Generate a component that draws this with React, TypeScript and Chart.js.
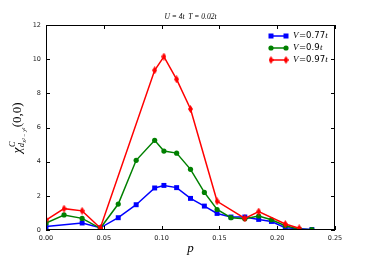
import React, { useEffect, useRef } from "react";
import { Chart, registerables } from "chart.js";

Chart.register(...registerables);

const pBlue = [0, 0.03125, 0.047, 0.0625, 0.078, 0.094, 0.102, 0.113, 0.125, 0.137, 0.148, 0.16, 0.172, 0.184, 0.195, 0.207, 0.23];
const vBlue = [0.2, 0.41, 0.13, 0.72, 1.48, 2.46, 2.61, 2.48, 1.85, 1.4, 0.97, 0.76, 0.76, 0.62, 0.5, 0.13, 0.03];

const pGreen = [0, 0.0156, 0.03125, 0.047, 0.0625, 0.078, 0.094, 0.102, 0.113, 0.125, 0.137, 0.148, 0.16, 0.172, 0.184, 0.195, 0.207, 0.219, 0.23];
const vGreen = [0.4, 0.88, 0.68, 0.1, 1.52, 4.08, 5.25, 4.62, 4.5, 3.55, 2.2, 1.2, 0.72, 0.66, 0.82, 0.6, 0.25, 0.05, 0.02];

const pRed = [0, 0.0156, 0.03125, 0.047, 0.094, 0.102, 0.113, 0.125, 0.148, 0.172, 0.184, 0.207, 0.219];
const vRed = [0.58, 1.25, 1.12, 0.12, 9.35, 10.15, 8.82, 7.08, 1.68, 0.68, 1.08, 0.35, 0.1];

const seriesLabels = ["0.77", "0.9", "0.97"];
const xTicks = [0, 0.05, 0.1, 0.15, 0.2, 0.25];
const yTicks = [0, 2, 4, 6, 8, 10, 12];

const BLUE = "#0000ff";
const GREEN = "#008000";
const RED = "#ff0000";

function makeDiamond(): HTMLCanvasElement {
  const c = document.createElement("canvas");
  c.width = 5;
  c.height = 8;
  const g = c.getContext("2d")!;
  g.fillStyle = RED;
  g.beginPath();
  g.moveTo(2.5, 0);
  g.lineTo(5, 4);
  g.lineTo(2.5, 8);
  g.lineTo(0, 4);
  g.closePath();
  g.fill();
  return c;
}

function drawMarker(ctx: CanvasRenderingContext2D, kind: number, x: number, y: number, diamond: HTMLCanvasElement) {
  ctx.save();
  if (kind === 0) {
    ctx.fillStyle = BLUE;
    ctx.fillRect(x - 2.5, y - 2.5, 5, 5);
  } else if (kind === 1) {
    ctx.fillStyle = GREEN;
    ctx.beginPath();
    ctx.arc(x, y, 2.6, 0, Math.PI * 2);
    ctx.fill();
  } else {
    ctx.drawImage(diamond, x - 2.5, y - 4);
  }
  ctx.restore();
}

export default function App() {
  const ref = useRef<HTMLCanvasElement | null>(null);

  useEffect(() => {
    document.body.style.margin = "0";
    const canvas = ref.current!;
    const diamond = makeDiamond();
    const toPts = (p: number[], v: number[]) => p.map((x, i) => ({ x, y: v[i] }));

    const overlay = {
      id: "overlay",
      afterDraw(chart: any) {
        const ctx: CanvasRenderingContext2D = chart.ctx;
        const a = chart.chartArea;
        const xs = chart.scales.x;
        const ys = chart.scales.y;
        ctx.save();
        ctx.strokeStyle = "#000";
        ctx.lineWidth = 1;
        ctx.strokeRect(a.left + 0.5, a.top + 0.5, a.right - a.left - 1, a.bottom - a.top - 1);
        ctx.beginPath();
        for (const t of xTicks) {
          const px = Math.round(xs.getPixelForValue(t)) + 0.5;
          ctx.moveTo(px, a.bottom);
          ctx.lineTo(px, a.bottom - 4);
          ctx.moveTo(px, a.top);
          ctx.lineTo(px, a.top + 4);
        }
        for (const t of yTicks) {
          const py = Math.round(ys.getPixelForValue(t)) + 0.5;
          ctx.moveTo(a.left, py);
          ctx.lineTo(a.left + 4, py);
          ctx.moveTo(a.right, py);
          ctx.lineTo(a.right - 4, py);
        }
        ctx.stroke();

        ctx.fillStyle = "#000";
        ctx.textBaseline = "middle";
        ctx.textAlign = "center";
        ctx.font = "italic 7.5px 'Liberation Serif'";
        ctx.fillText("U = 4t  T = 0.02t", (a.left + a.right) / 2, 17);

        ctx.font = "italic 13px 'Liberation Serif'";
        ctx.fillText("p", (a.left + a.right) / 2, 249);

        ctx.save();
        ctx.translate(17, (a.top + a.bottom) / 2);
        ctx.rotate(-Math.PI / 2);
        ctx.textAlign = "left";
        ctx.textBaseline = "alphabetic";
        const pieces: { t: string; f: string; dy: number; adv?: boolean }[] = [
          { t: "χ", f: "italic 13px 'Liberation Serif'", dy: 0 },
          { t: "C", f: "italic 8px 'Liberation Serif'", dy: -6, adv: false },
          { t: "d", f: "italic 8px 'Liberation Serif'", dy: 3 },
          { t: "x² − y²", f: "italic 5.5px 'Liberation Serif'", dy: 5 },
          { t: "(0,0)", f: "13px 'Liberation Serif'", dy: 0 },
        ];
        let total = 0;
        const widths: number[] = [];
        for (const pc of pieces) {
          ctx.font = pc.f;
          const w = ctx.measureText(pc.t).width;
          widths.push(w);
          if (pc.adv !== false) total += w + 0.5;
        }
        let cx = -total / 2;
        pieces.forEach((pc, i) => {
          ctx.font = pc.f;
          ctx.fillText(pc.t, cx, 4 + pc.dy);
          if (pc.adv !== false) cx += widths[i] + 0.5;
        });
        ctx.restore();

        const rows = [36, 48, 60];
        const colors = [BLUE, GREEN, RED];
        rows.forEach((ry, i) => {
          ctx.strokeStyle = colors[i];
          ctx.lineWidth = 1.5;
          ctx.beginPath();
          ctx.moveTo(271, ry);
          ctx.lineTo(286, ry);
          ctx.stroke();
          drawMarker(ctx, i, 271, ry, diamond);
          drawMarker(ctx, i, 286, ry, diamond);
          ctx.fillStyle = "#000";
          ctx.textAlign = "left";
          ctx.textBaseline = "middle";
          let tx = 293;
          ctx.font = "italic 9px 'Liberation Serif'";
          ctx.fillText("V", tx, ry);
          tx += ctx.measureText("V").width + 0.5;
          ctx.font = "8.5px 'DejaVu Sans'";
          const s = "=" + seriesLabels[i];
          ctx.fillText(s, tx, ry);
          tx += ctx.measureText(s).width + 0.3;
          ctx.font = "italic 9px 'Liberation Serif'";
          ctx.fillText("t", tx, ry);
        });
        ctx.restore();
      },
    };

    const chart = new Chart(canvas, {
      type: "scatter",
      data: {
        datasets: [
          {
            label: "V=0.97t",
            data: toPts(pRed, vRed),
            showLine: true,
            borderColor: RED,
            backgroundColor: RED,
            borderWidth: 1.5,
            pointStyle: diamond as any,
            pointRadius: 3,
            order: 0,
          },
          {
            label: "V=0.9t",
            data: toPts(pGreen, vGreen),
            showLine: true,
            borderColor: GREEN,
            backgroundColor: GREEN,
            borderWidth: 1.5,
            pointStyle: "circle",
            pointRadius: 2.6,
            pointBorderWidth: 0,
            order: 1,
          },
          {
            label: "V=0.77t",
            data: toPts(pBlue, vBlue),
            showLine: true,
            borderColor: BLUE,
            backgroundColor: BLUE,
            borderWidth: 1.5,
            pointStyle: "rect",
            pointRadius: 3.5,
            pointBorderWidth: 0,
            order: 2,
          },
        ],
      },
      options: {
        animation: false,
        responsive: false,
        maintainAspectRatio: false,
        layout: { padding: { top: 25, right: 37, left: 0, bottom: 0 } },
        plugins: { legend: { display: false }, tooltip: { enabled: false }, title: { display: false } },
        scales: {
          x: {
            type: "linear",
            min: 0,
            max: 0.25,
            afterFit: (s: any) => {
              s.height = 26;
            },
            afterBuildTicks: (s: any) => {
              s.ticks = xTicks.map((v) => ({ value: v }));
            },
            grid: { display: false, drawTicks: false },
            border: { display: false },
            ticks: {
              padding: 4,
              color: "#222",
              font: { size: 6.5, family: "'DejaVu Sans'" },
              callback: (v: any) => Number(v).toFixed(2),
              maxRotation: 0,
            },
          },
          y: {
            type: "linear",
            min: 0,
            max: 12,
            afterFit: (s: any) => {
              s.width = 46;
            },
            afterBuildTicks: (s: any) => {
              s.ticks = yTicks.map((v) => ({ value: v }));
            },
            grid: { display: false, drawTicks: false },
            border: { display: false },
            ticks: {
              padding: 5,
              color: "#222",
              font: { size: 6.5, family: "'DejaVu Sans'" },
              callback: (v: any) => String(v),
            },
          },
        },
      },
      plugins: [overlay],
    } as any);

    return () => chart.destroy();
  }, []);

  return <canvas ref={ref} width={372} height={256} style={{ display: "block", width: 372, height: 256 }} />;
}
